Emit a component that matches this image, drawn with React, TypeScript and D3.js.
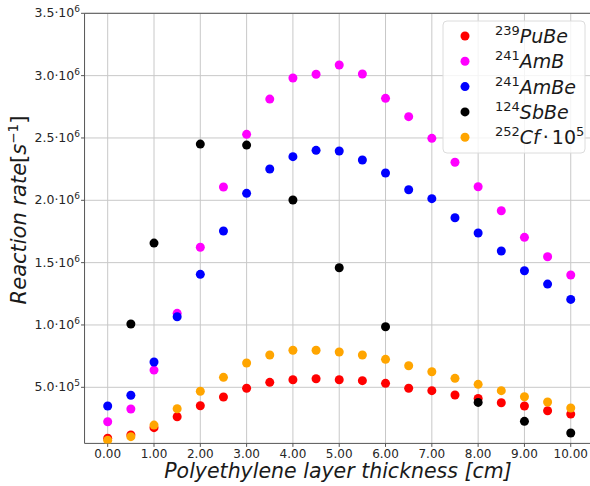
import React from "react";
import * as d3 from "d3";

const thickness = [0, 0.5, 1, 1.5, 2, 2.5, 3, 3.5, 4, 4.5, 5, 5.5, 6, 6.5, 7, 7.5, 8, 8.5, 9, 9.5, 10];

const puBe = [91000, 117000, 176000, 264000, 352000, 422000, 492000, 540000, 561000, 569000, 561000, 553000, 532000, 492000, 473000, 438000, 411000, 376000, 350000, 312000, 285000];
const amB = [224000, 326000, 638000, 1093000, 1623000, 2107000, 2529000, 2812000, 2981000, 3011000, 3085000, 3013000, 2818000, 2671000, 2497000, 2305000, 2109000, 1916000, 1703000, 1547000, 1401000];
const amBe = [350000, 436000, 703000, 1066000, 1406000, 1754000, 2056000, 2251000, 2350000, 2401000, 2395000, 2323000, 2219000, 2085000, 2013000, 1860000, 1738000, 1593000, 1435000, 1328000, 1205000];
const sbBeX = [0.5, 1, 2, 3, 4, 5, 6, 8, 9, 10];
const sbBe = [1008000, 1657000, 2451000, 2443000, 2002000, 1459000, 986000, 379000, 227000, 133000];
const cf = [75000, 104000, 197000, 328000, 468000, 580000, 695000, 759000, 797000, 797000, 783000, 759000, 724000, 673000, 625000, 572000, 524000, 473000, 424000, 382000, 334000];

const xTicks = [0, 1, 2, 3, 4, 5, 6, 7, 8, 9, 10];
const yTicks = [500000, 1000000, 1500000, 2000000, 2500000, 3000000, 3500000];

const seriesMeta = [
  { sup: "239", name: "PuBe", color: "#ff0000" },
  { sup: "241", name: "AmB", color: "#ff00ff" },
  { sup: "241", name: "AmBe", color: "#0000ff" },
  { sup: "124", name: "SbBe", color: "#000000" },
  { sup: "252", name: "Cf", color: "#ffa500" },
];

const W = 590;
const H = 486;
const FONT = "DejaVu Sans, sans-serif";

export default function App() {
  const x = d3.scaleLinear().domain([-0.5, 10.5]).range([84.55, 593.9]);
  const y = d3.scaleLinear().domain([50000, 3500000]).range([443.4, 13.3]);

  const series = [
    { xs: thickness, ys: puBe, color: seriesMeta[0].color },
    { xs: thickness, ys: amB, color: seriesMeta[1].color },
    { xs: thickness, ys: amBe, color: seriesMeta[2].color },
    { xs: sbBeX, ys: sbBe, color: seriesMeta[3].color },
    { xs: thickness, ys: cf, color: seriesMeta[4].color },
  ];

  const [x0, x1] = x.range();
  const [yb, yt] = y.range();

  const fmtY = (v: number) => {
    const e = Math.floor(Math.log10(v));
    const m = v / Math.pow(10, e);
    return { m: m.toFixed(1), e: String(e) };
  };

  return (
    <div style={{ position: "fixed", left: 0, top: 0, background: "#fff" }}>
      <svg width={W} height={H} style={{ display: "block" }} fontFamily={FONT}>
        <rect x={0} y={0} width={W} height={H} fill="#fff" />
        <defs>
          <clipPath id="plotclip">
            <rect x={x0} y={yt} width={x1 - x0} height={yb - yt} />
          </clipPath>
        </defs>
        {/* grid */}
        <g>
          {xTicks.map((t) => (
            <line key={"gx" + t} x1={x(t)} x2={x(t)} y1={yt} y2={yb} stroke="#c8c8c8" strokeWidth={1} />
          ))}
          {yTicks.map((t) => (
            <line key={"gy" + t} x1={x0} x2={x1} y1={y(t)} y2={y(t)} stroke="#c8c8c8" strokeWidth={1} />
          ))}
        </g>
        {/* spines */}
        <line x1={x0} x2={x0} y1={yt} y2={yb} stroke="#555" strokeWidth={1} />
        <line x1={x0} x2={x1} y1={yb} y2={yb} stroke="#555" strokeWidth={1} />
        <line x1={x0} x2={x1} y1={yt} y2={yt} stroke="#555" strokeWidth={1} />
        {/* ticks */}
        {xTicks.map((t) => (
          <g key={"tx" + t}>
            <line x1={x(t)} x2={x(t)} y1={yb} y2={yb + 3.5} stroke="#555" />
            <text x={x(t)} y={457.5} textAnchor="middle" fontSize={12} fill="#262626">
              {t.toFixed(2)}
            </text>
          </g>
        ))}
        {yTicks.map((t) => {
          const f = fmtY(t);
          return (
            <g key={"ty" + t}>
              <line x1={x0 - 3.5} x2={x0} y1={y(t)} y2={y(t)} stroke="#555" />
              <text x={80} y={y(t) + 4} textAnchor="end" fontSize={12.5} fill="#262626">
                {f.m}·10
                <tspan fontSize={9} dy={-5}>{f.e}</tspan>
              </text>
            </g>
          );
        })}
        {/* points */}
        <g clipPath="url(#plotclip)">
          {series.map((s, si) => (
            <g key={"s" + si}>
              {s.ys.map((v, i) => (
                <circle key={i} cx={x(s.xs[i])} cy={y(v)} r={4.5} fill={s.color} />
              ))}
            </g>
          ))}
        </g>
        {/* legend */}
        <g>
          <rect x={443} y={21} width={142} height={132} rx={4} fill="#fff" fillOpacity={0.8} stroke="#dcdcdc" />
          {seriesMeta.map((s, i) => {
            const cy = 36 + i * 25.3;
            return (
              <g key={"lg" + i}>
                <circle cx={465} cy={cy} r={4.5} fill={s.color} />
                <text x={495} y={cy + 7} fontSize={19} fill="#1a1a1a">
                  <tspan fontSize={13} dy={-8}>{s.sup}</tspan>
                  <tspan fontStyle="italic" dy={8}>{s.name}</tspan>
                  {s.name === "Cf" ? (
                    <>
                      <tspan dx={3}>·</tspan>
                      <tspan dx={3}>10</tspan>
                      <tspan fontSize={13} dy={-8}>5</tspan>
                    </>
                  ) : null}
                </text>
              </g>
            );
          })}
        </g>
        {/* axis labels */}
        <text x={338} y={478} textAnchor="middle" fontSize={20.5} fontStyle="italic" fill="#1a1a1a">
          Polyethylene layer thickness [cm]
        </text>
        <text
          transform={`translate(26,${210}) rotate(-90)`}
          textAnchor="middle"
          fontSize={21}
          fill="#1a1a1a"
        >
          <tspan fontStyle="italic">Reaction rate</tspan>
          <tspan>[</tspan>
          <tspan fontStyle="italic">s</tspan>
          <tspan fontSize={13.5} dy={-8}>−1</tspan>
          <tspan dy={8}>]</tspan>
        </text>
      </svg>
    </div>
  );
}
